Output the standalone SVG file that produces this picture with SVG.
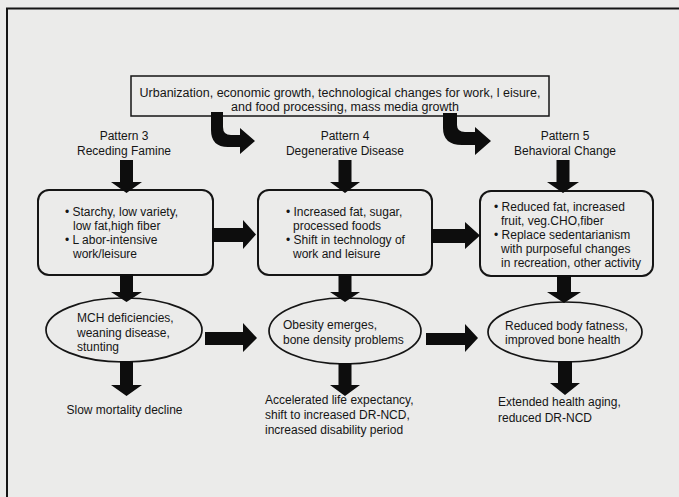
<svg xmlns="http://www.w3.org/2000/svg" width="679" height="497" viewBox="0 0 679 497">
<style>
  text { font-family: "Liberation Sans", Arial, sans-serif; font-size: 12px; fill: #151515; }
  .c { text-anchor: middle; }
  .box { fill: none; stroke: #151515; stroke-width: 2; }
  .arr { fill: #0d0d0d; stroke: none; }
  .frame { stroke: #151515; stroke-width: 2; fill: none; }
</style>
<rect x="0" y="0" width="679" height="497" fill="#ebebea"/>
<g id="frame">
  <line class="frame" x1="6" y1="8.5" x2="679" y2="8.5"/>
  <line class="frame" x1="7" y1="8" x2="7" y2="497"/>
</g>

<g id="drivers">
  <rect class="box" x="131" y="76" width="418" height="40" style="stroke-width:1.5"/>
  <text class="c" x="340" y="97" style="font-size:12.5px">Urbanization, economic growth, technological changes for work, l eisure,</text>
  <text class="c" x="345" y="111" style="font-size:12.5px">and food processing, mass media growth</text>
</g>

<g id="pattern3-label">
  <text class="c" x="124" y="139.5">Pattern 3</text>
  <text class="c" x="124" y="155">Receding Famine</text>
</g>
<g id="pattern4-label">
  <text class="c" x="345" y="139.5">Pattern 4</text>
  <text class="c" x="345" y="155">Degenerative Disease</text>
</g>
<g id="pattern5-label">
  <text class="c" x="565" y="139.5">Pattern 5</text>
  <text class="c" x="565" y="155">Behavioral Change</text>
</g>

<g id="diet3">
  <rect class="box" x="38" y="190" width="175" height="85" rx="11"/>
  <text x="65" y="216">• Starchy, low variety,</text>
  <text x="73" y="230">low fat,high fiber</text>
  <text x="65" y="243.5">• L abor-intensive</text>
  <text x="73" y="257.5">work/leisure</text>
</g>
<g id="diet4">
  <rect class="box" x="258" y="190" width="174" height="85" rx="11"/>
  <text x="286" y="216">• Increased fat, sugar,</text>
  <text x="293" y="230">processed foods</text>
  <text x="286" y="243.5">• Shift in technology of</text>
  <text x="293" y="257.5">work and leisure</text>
</g>
<g id="diet5">
  <rect class="box" x="480" y="191" width="173" height="85" rx="11"/>
  <text x="494" y="211">• Reduced fat, increased</text>
  <text x="501" y="224.5">fruit, veg.CHO,fiber</text>
  <text x="494" y="238.5">• Replace sedentarianism</text>
  <text x="501" y="252.5">with purposeful changes</text>
  <text x="501" y="266.5">in recreation, other activity</text>
</g>

<g id="outcome3">
  <ellipse class="box" cx="124" cy="330" rx="78" ry="32" style="stroke-width:1.7"/>
  <text x="77" y="322">MCH deficiencies,</text>
  <text x="77" y="337">weaning disease,</text>
  <text x="77" y="351">stunting</text>
</g>
<g id="outcome4">
  <ellipse class="box" cx="345" cy="331" rx="76" ry="33" style="stroke-width:1.7"/>
  <text x="283" y="329">Obesity emerges,</text>
  <text x="283" y="344">bone density problems</text>
</g>
<g id="outcome5">
  <ellipse class="box" cx="565" cy="332" rx="77" ry="30" style="stroke-width:1.7"/>
  <text x="505" y="330">Reduced body fatness,</text>
  <text x="505" y="344">improved bone health</text>
</g>

<g id="result3">
  <text class="c" x="124.5" y="414">Slow mortality decline</text>
</g>
<g id="result4">
  <text x="265" y="404">Accelerated life expectancy,</text>
  <text x="265" y="419">shift to increased DR-NCD,</text>
  <text x="265" y="434">increased disability period</text>
</g>
<g id="result5">
  <text x="498" y="406">Extended health aging,</text>
  <text x="498" y="422">reduced DR-NCD</text>
</g>

<g id="connectors">
  <path class="arr" d="M211,112 L223,112 L223,127 Q223,135 231,135 L240,135 L240,128 L255,141 L240,154 L240,147 L228,147 Q211,147 211,130 Z"/>
  <path class="arr" d="M443,113 L457,113 L457,125 Q457,132 465,132 L475,132 L475,127 L491,141 L475,155 L475,145 L462,145 Q443,145 443,128 Z"/>
  <path class="arr" d="M120,160 L133,160 L133,182 L142,182 L126.5,193 L111,182 L120,182 Z"/>
  <path class="arr" d="M338.5,160 L351.5,160 L351.5,182 L360,182 L345,193 L330,182 L338.5,182 Z"/>
  <path class="arr" d="M556.5,160 L569.5,160 L569.5,182 L579,182 L563,193 L547,182 L556.5,182 Z"/>
  <path class="arr" d="M212,228 L243,228 L243,220 L256,234.5 L243,249 L243,242 L212,242 Z"/>
  <path class="arr" d="M431,229 L465,229 L465,222 L480,235.5 L465,249 L465,243 L431,243 Z"/>
  <path class="arr" d="M120,274 L133,274 L133,292 L142,292 L126.5,302 L111,292 L120,292 Z"/>
  <path class="arr" d="M338.5,274 L351.5,274 L351.5,292 L360,292 L345,302 L330,292 L338.5,292 Z"/>
  <path class="arr" d="M557,275 L571,275 L571,292 L581,292 L564,303 L547,292 L557,292 Z"/>
  <path class="arr" d="M205,332 L243,332 L243,323 L257,338 L243,352 L243,345 L205,345 Z"/>
  <path class="arr" d="M426,333 L465,333 L465,324 L478,338 L465,352 L465,345 L426,345 Z"/>
  <path class="arr" d="M120,361 L133,361 L133,385 L142,385 L126.5,396 L111,385 L120,385 Z"/>
  <path class="arr" d="M338.5,363 L351.5,363 L351.5,385 L360,385 L345,396 L330,385 L338.5,385 Z"/>
  <path class="arr" d="M558,361 L572,361 L572,383 L580,383 L565,395 L550,383 L558,383 Z"/>
</g>
</svg>
